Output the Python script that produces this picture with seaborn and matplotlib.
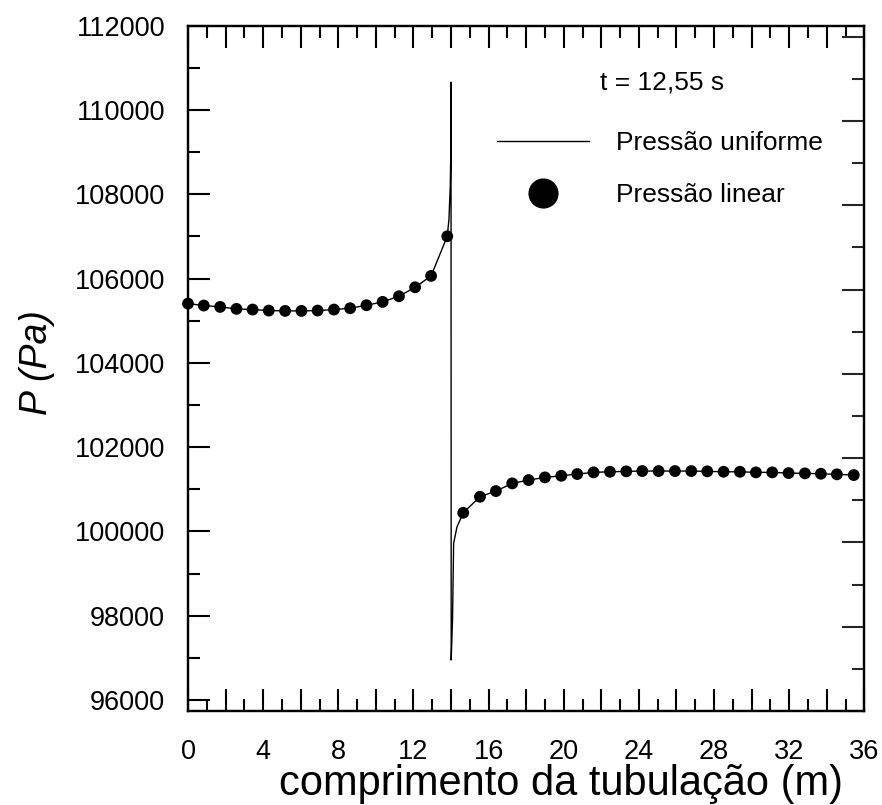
import matplotlib
matplotlib.use("Agg")
import matplotlib.pyplot as plt
import seaborn as sns
import numpy as np
import pandas as pd
from matplotlib.lines import Line2D
from matplotlib.ticker import MultipleLocator

# ---------------- data ----------------
# "Pressão linear" dots, left of the discontinuity
dots_x_left = [0.00, 0.84, 1.71, 2.58, 3.44, 4.30, 5.17, 6.04, 6.90, 7.77,
               8.63, 9.50, 10.36, 11.23, 12.09, 12.94, 13.80]
dots_p_left = [105407, 105360, 105328, 105281, 105265, 105241, 105233, 105233,
               105241, 105265, 105296, 105368, 105447, 105581, 105794, 106063,
               107004]
# dots right of the discontinuity
dots_x_right = [14.65, 15.54, 16.39, 17.26, 18.13, 19.00, 19.87, 20.72, 21.59,
                22.46, 23.33, 24.18, 25.05, 25.92, 26.79, 27.64, 28.51, 29.38,
                30.23, 31.10, 31.97, 32.84, 33.69, 34.54, 35.44]
dots_p_right = [100443, 100823, 100958, 101141, 101219, 101283, 101321, 101362,
                101402, 101416, 101426, 101433, 101433, 101433, 101433, 101426,
                101416, 101416, 101402, 101402, 101385, 101378, 101369, 101355,
                101338]

# extra points of the "Pressão uniforme" line around the pressure spike
spike_x = [13.89, 13.96, 13.99, 14.00, 14.01, 14.05, 14.08, 14.14, 14.32]
spike_p = [107400, 108190, 108980, 110660, 96950, 97500, 97892, 99720, 100111]

x_tick_values = [0, 2, 4, 6, 8, 10, 12, 14, 16, 18, 20, 22, 24, 26, 28, 30, 32, 34, 36]
x_tick_labels = ["0", "", "4", "", "8", "", "12", "", "16", "", "20", "", "24", "",
                 "28", "", "32", "", "36"]
y_tick_values = [96000, 98000, 100000, 102000, 104000, 106000, 108000, 110000, 112000]
y_tick_labels = ["96000", "98000", "100000", "102000", "104000", "106000",
                 "108000", "110000", "112000"]

label_line = "Pressão uniforme"
label_dots = "Pressão linear"
time_text = "t = 12,55 s"

# ---------------- styling ----------------
sns.set_style("ticks")
plt.rcParams["font.family"] = ["Liberation Sans", "DejaVu Sans"]

W, H = 882, 805
fig = plt.figure(figsize=(W / 100, H / 100), dpi=100)
L, R, T, B = 188, 864.3, 25.7, 711
ax = fig.add_axes([L / W, 1 - B / H, (R - L) / W, (B - T) / H])

line_df = pd.DataFrame({
    "x": dots_x_left + spike_x + dots_x_right,
    "p": dots_p_left + spike_p + dots_p_right,
})
dots_df = pd.DataFrame({
    "x": dots_x_left + dots_x_right,
    "p": dots_p_left + dots_p_right,
})

sns.lineplot(data=line_df, x="x", y="p", ax=ax, color="black", linewidth=1.0,
             sort=False, estimator=None, legend=False)
sns.scatterplot(data=dots_df, x="x", y="p", ax=ax, color="black", s=8.5 ** 2,
                edgecolor="none", legend=False, zorder=3, clip_on=False)

ax.set_xlim(0, 36)
ax.set_ylim(95740, 112000)

ax.set_xticks(x_tick_values)
ax.set_xticklabels(x_tick_labels)
ax.xaxis.set_minor_locator(MultipleLocator(1))
ax.set_yticks(y_tick_values)
ax.set_yticklabels(y_tick_labels)
ax.yaxis.set_minor_locator(MultipleLocator(1000))

ax.tick_params(axis="both", which="both", direction="in", top=True, right=False,
               width=1.5, colors="black")
ax.tick_params(axis="both", which="major", length=16)
ax.tick_params(axis="both", which="minor", length=8.3)
ax.tick_params(axis="x", which="major", labelsize=19.5, pad=20.5)
ax.tick_params(axis="y", which="major", labelsize=19.5, pad=16.5)

# right-hand axis (offset scale, as in the reference)
twin = ax.twinx()
twin.set_ylim(96000, 112260)
twin.yaxis.set_major_locator(MultipleLocator(2000))
twin.yaxis.set_minor_locator(MultipleLocator(1000))
twin.tick_params(axis="y", which="both", direction="in", right=True, left=False,
                 labelright=False, width=1.5)
twin.tick_params(axis="y", which="major", length=16)
twin.tick_params(axis="y", which="minor", length=8.3)

for a in (ax, twin):
    for s in a.spines.values():
        s.set_linewidth(1.6)
        s.set_color("black")
        s.set_visible(True)

ax.set_xlabel("comprimento da tubulação (m)", fontsize=30, color="black")
ax.xaxis.set_label_coords(0.552, -0.0775)
ax.set_ylabel("P (Pa)", fontsize=27, style="italic", color="black")
ax.yaxis.set_label_coords(-0.196, 0.508)

handles = [
    Line2D([], [], color="black", linewidth=1.0),
    Line2D([], [], color="black", marker="o", linestyle="none", markersize=20.7),
]
leg = ax.legend(handles, [label_line, label_dots], loc="upper left",
                bbox_to_anchor=(0.4567, 0.8467), frameon=False, fontsize=19,
                handlelength=3.48, handletextpad=1.05, labelspacing=1.08,
                borderpad=0, borderaxespad=0, labelcolor="black")

ax.text(0.609, 0.9178, time_text, transform=ax.transAxes, fontsize=19,
        ha="left", va="center", color="black")

fig.savefig("out.png", dpi=100)
